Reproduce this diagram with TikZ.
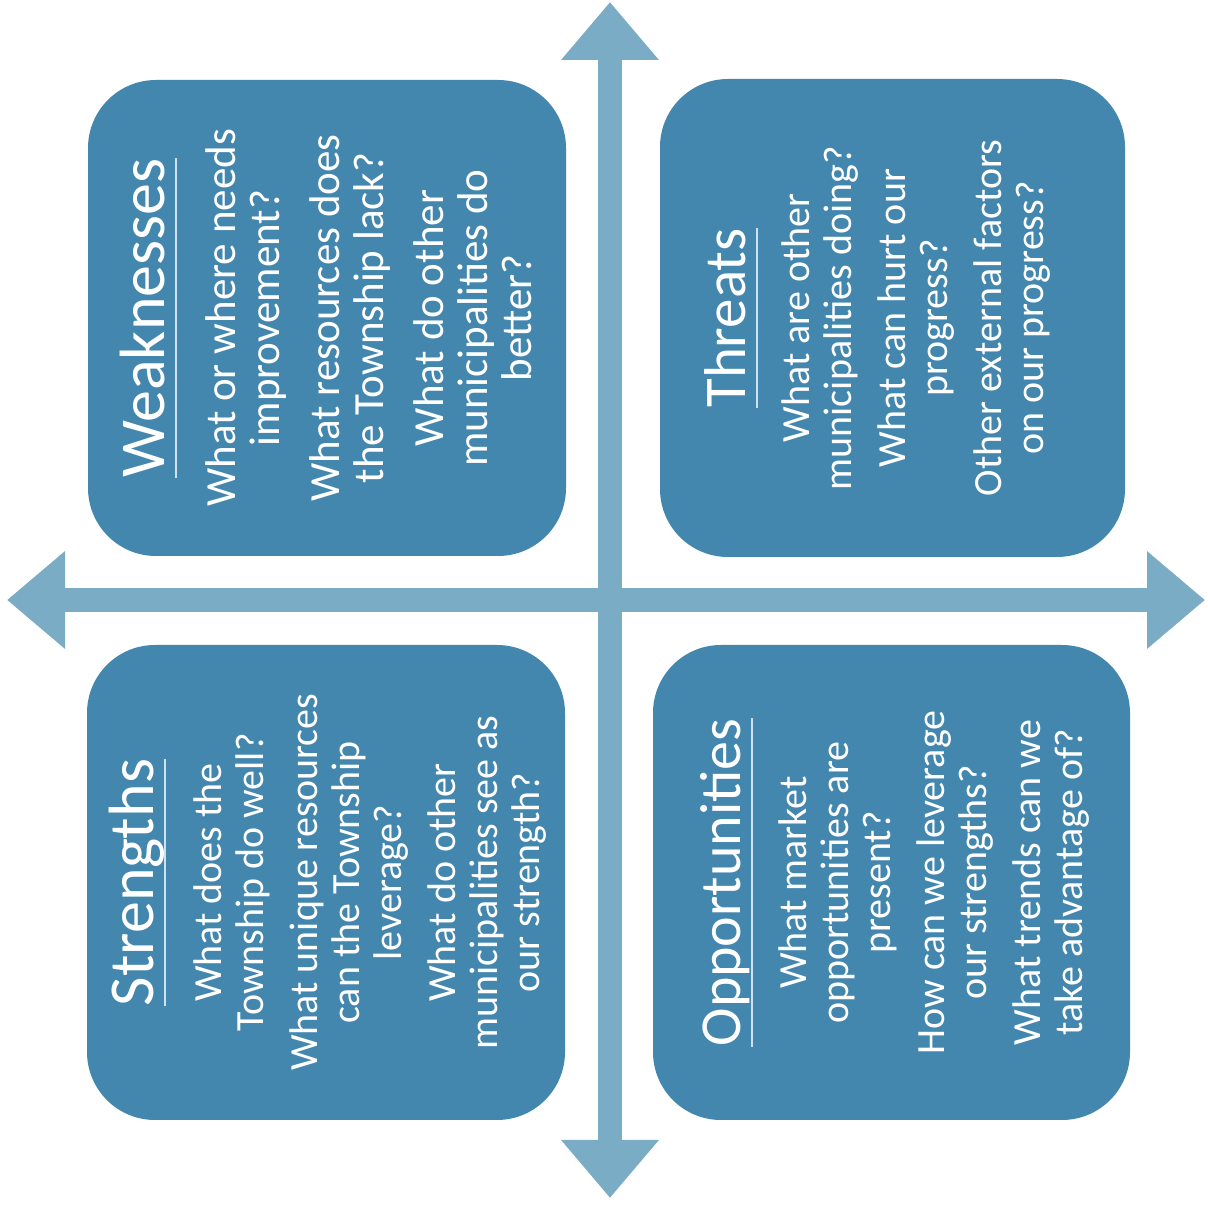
\documentclass[tikz,border=0pt]{standalone}
\usepackage{fontspec}
\setmainfont{Carlito}
\usetikzlibrary{arrows.meta}
\definecolor{boxblue}{RGB}{67,135,175}
\definecolor{axisblue}{RGB}{122,173,197}
\definecolor{lineblue}{RGB}{205,228,240}
\begin{document}
\begin{tikzpicture}[x=0.5pt,y=0.5pt,
  boxstyle/.style={rectangle, rounded corners=34pt, fill=boxblue, minimum width=239pt, minimum height=238pt, inner sep=0pt},
  titlestyle/.style={rotate=90, anchor=base, inner sep=0pt, text=white, font=\fontsize{31}{36}\selectfont},
  textstyle/.style={rotate=90, anchor=north, inner sep=0pt, align=center, text=white, font=\fontsize{20}{21}\selectfont},
  linestyle/.style={draw=lineblue, line width=1.2pt},
  axisstyle/.style={draw=axisblue, line width=12pt, {Triangle[length=29pt,width=47pt]}-{Triangle[length=29pt,width=47pt]}}]
  \fill[white] (0,0) rectangle (1208,1212);
  \useasboundingbox (0,0) rectangle (1208,1212);

  % the cross
  \coordinate (west) at (7,612);
  \coordinate (east) at (1205,612);
  \coordinate (north) at (610,1210);
  \coordinate (south) at (610,14);
  \foreach \a/\b in {west/east, north/south}
    \draw[axisstyle] (\a) -- (\b);

  % four boxes
  \node [boxstyle] (weak) at (327,894) {};
  \node [boxstyle, minimum width=232.5pt, minimum height=239pt] (threat) at (892.5,894) {};
  \node [boxstyle, minimum height=237.5pt] (strength) at (326,329.5) {};
  \node [boxstyle, minimum width=238.5pt, minimum height=237.5pt] (opport) at (891.5,329.5) {};

  \node [titlestyle, font=\fontsize{32}{36}\selectfont] (weakt) at (164,894) {Weaknesses};
  \node [textstyle, font=\fontsize{21.5}{22}\selectfont] (weakb) at (205,894)
    {What or where needs\\ improvement?\\[8pt] What resources does\\ the Township lack?\\[8pt] What do other\\ municipalities do\\ better?};

  \node [titlestyle, font=\fontsize{29.5}{36}\selectfont] (threatt) at (745,894) {Threats};
  \node [textstyle] (threatb) at (781,894)
    {What are other\\ municipalities doing?\\[6pt] What can hurt our\\ progress?\\[6pt] Other external factors\\ on our progress?};

  \node [titlestyle, font=\fontsize{32}{36}\selectfont] (strengtht) at (153,329.5) {Strengths};
  \node [textstyle] (strengthb) at (193,329.5)
    {What does the\\ Township do well?\\[6pt] What unique resources\\ can the Township\\ leverage?\\[6pt] What do other\\ municipalities see as\\ our strength?};

  \node [titlestyle, font=\fontsize{29}{36}\selectfont] (opportt) at (740,329.5) {Opportunities};
  \node [textstyle] (opportb) at (778,329.5)
    {What market\\ opportunities are\\ present?\\[6pt] How can we leverage\\ our strengths?\\[6pt] What trends can we\\ take advantage of?};

  % title underlines
  \foreach \t in {weakt, threatt, strengtht, opportt}
    \draw[linestyle] ([xshift=6pt]\t.base west) -- ([xshift=6pt]\t.base east);
\end{tikzpicture}
\end{document}
